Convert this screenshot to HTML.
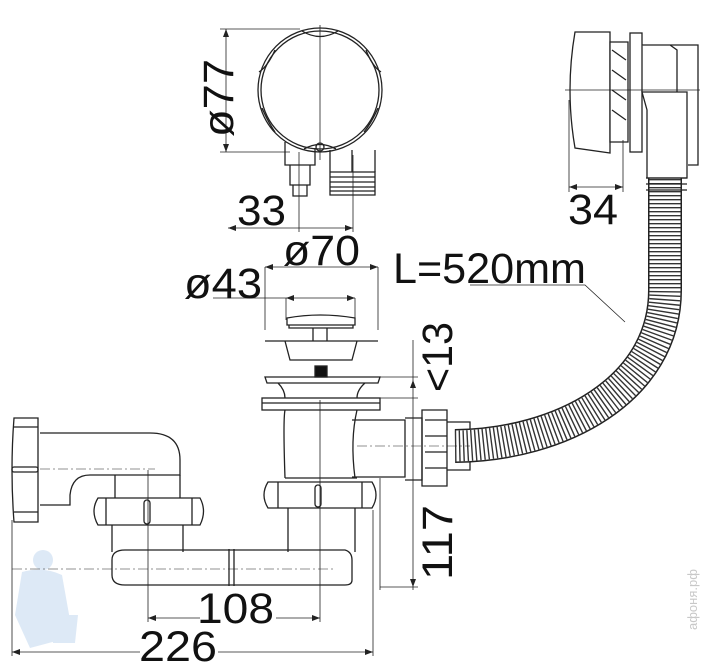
<!DOCTYPE html>
<html><head><meta charset="utf-8"><style>
html,body{margin:0;padding:0;background:#fff;}
svg{display:block}
text{font-family:"Liberation Sans",sans-serif;fill:#111}
</style></head><body>
<svg width="705" height="668" viewBox="0 0 705 668" xmlns="http://www.w3.org/2000/svg">
<g fill="none" stroke="#222" stroke-width="1.3">
<!-- watermark figure -->
<g fill="#dde9f6" stroke="none">
<circle cx="43" cy="560" r="10"/>
<path d="M22 572 Q43 566 62 575 L70 620 L60 640 L30 648 L15 615 Z"/>
<path d="M50 615 h28 l-3 28 h-22 z"/>
</g>
<!-- top round cap -->
<circle cx="320" cy="90" r="62"/>
<circle cx="320" cy="90" r="59"/>
<path d="M302 31 Q320 42 338 31 M366 50 Q372 66 381 72 M259 72 Q268 66 275 50 M262 108 Q268 122 275 132 M378 108 Q372 122 364 132 M304 149 Q320 140 336 149"/>
<circle cx="320" cy="147" r="4"/>
<path d="M285 142 V165 H315 V148 M290 165 V185 H310 V165 M293 185 V196 H307 V185"/>
<path d="M330 150 V172 M352 150 V172 M330 172 H375 V195 H330 Z M330 177 H375 M330 182 H375 M330 187 H375 M330 191 H375"/>
<path d="M375 150 V172"/>
<!-- top dims -->
<path stroke-width="0.8" d="M226 29 V152 M220 29 H300 M220 152 H290 M228 228 H353 M299 152 V232 M353 155 V232 M265 267 H378 M265 267 V330 M378 267 V330 M213 298 H355 M286 298 V320 M355 298 V320 M320 25 V160"/>
<!-- plug -->
<path d="M287 318 Q320 312 355 318 V325 H287 Z M289 325 H353 V328 H289 Z"/>
<path d="M313 328 V341 M327 328 V341"/>
<path d="M265 341 H378 M285 341 L290 360 H352 L357 341"/>
<rect x="315" y="366" width="12" height="11" fill="#111"/>
<path d="M265 377 H380 L378 383 H267 Z M278 383 Q285 390 285 398 M365 383 Q357 390 357 398"/>
<rect x="262" y="398" width="118" height="12"/>
<path d="M262 403 H380"/>
<path d="M285 410 Q283 420 285 478 M357 410 Q350 440 355 478 M285 478 H357"/>
<path d="M352 420 H405 V477 H352 M405 418 H422 V480 H405"/>
<path d="M422 410 H447 V486 H422 Z M425 420 H447 M425 436 H447 M425 452 H447 M425 468 H447"/>
<path d="M447 422 H470 V470 H447"/>
<!-- hose -->
<path d="M665 175 L665 290 C665 390 560 445 455 446" stroke="#222" stroke-width="34"/>
<path d="M665 175 L665 290 C665 390 560 445 455 446" stroke="#fff" stroke-width="31"/>
<path d="M665 175 L665 290 C665 390 560 445 455 446" stroke="#333" stroke-width="31" stroke-dasharray="1.4 2.6"/>
<!-- right top device -->
<path d="M575 32 H610 V153 L575 148 Q565 90 575 32 Z" fill="#fff"/>
<path d="M610 42 H628 V142 H610 Z M612 50 L626 60 M612 70 L626 80 M612 90 L626 100 M612 110 L626 120" fill="#fff"/>
<rect x="630" y="33" width="12" height="119" fill="#fff"/>
<path d="M642 45 H670 L677 50 V95 M670 45 H698 V165 H688" fill="#fff"/>
<path d="M642 92 H687 V178 H647 V110 Z" fill="#fff"/>
<path d="M646 178 H687 M646 184 H687 M646 190 H687"/>
<path stroke-width="0.8" d="M565 90 H700 M569 100 V192 M623 140 V192 M569 187 H623"/>
<!-- L leader -->
<path stroke-width="0.8" d="M470 285 H585 L625 322"/>
<!-- <13 and 117 dims -->
<path stroke-width="0.8" d="M380 377 H418 M380 398 H418 M413 340 V590 M380 587 H418 M380 478 V590"/>
<!-- lower nuts -->
<path d="M268 482 H372 Q380 495 372 508 H268 Q260 495 268 482 Z M278 482 V508 M362 482 V508"/>
<rect x="315" y="485" width="6" height="22" rx="3"/>
<path d="M288 508 V552 M355 508 V552"/>
<path d="M98 498 H200 Q207 511 200 525 H98 Q90 511 98 498 Z M106 498 V525 M192 498 V525"/>
<rect x="144" y="500" width="6" height="24" rx="3"/>
<path d="M112 525 V552 M183 525 V552 M115 475 V498 M180 475 V498"/>
<path d="M125 550 H345 Q352 552 352 560 V580 Q352 585 345 585 H125 Q112 585 112 575 V560 Q112 550 125 550 Z"/>
<path d="M229 549 V586 M234 549 V586"/>
<!-- elbow -->
<path d="M40 433 H150 Q180 433 180 460 V475 H90 Q72 475 70 495 V505 H40"/>
<path d="M14 418 H38 V522 H14 Q10 470 14 418 Z M14 427 H38 M14 512 H38"/>
<rect x="12" y="467" width="26" height="5" rx="2"/>
<!-- bottom dims -->
<path stroke-width="0.8" d="M148 470 V622 M320 400 V622 M148 618 H200 M276 618 H320 M12 520 V656 M373 510 V656 M12 652 H140 M218 652 H373"/>
<path stroke-width="0.6" stroke-dasharray="10 3 2 3" d="M12 569 H335 M40 469 H155 M357 446 H470"/>
</g>
<g fill="#222">
<path d="M228 228 l8 -3 v6z M353 228 l-8 -3 v6z M265 267 l8 -3 v6z M378 267 l-8 -3 v6z M286 298 l8 -3 v6z M355 298 l-8 -3 v6z M226 29 l-3 8 h6z M226 152 l-3 -8 h6z M569 187 l8 -3 v6z M623 187 l-8 -3 v6z M148 618 l8 -3 v6z M320 618 l-8 -3 v6z M12 652 l8 -3 v6z M373 652 l-8 -3 v6z M413 380 l-3 8 h6z M413 587 l-3 -8 h6z"/>
</g>
<g font-size="43">
<text x="237" y="225" textLength="49" lengthAdjust="spacingAndGlyphs">33</text>
<text x="283" y="265" textLength="77" lengthAdjust="spacingAndGlyphs">ø70</text>
<text x="184" y="298" textLength="78" lengthAdjust="spacingAndGlyphs">ø43</text>
<text x="568" y="224" textLength="50" lengthAdjust="spacingAndGlyphs">34</text>
<text x="393" y="283" textLength="193" lengthAdjust="spacingAndGlyphs">L=520mm</text>
<text x="197" y="623" textLength="77" lengthAdjust="spacingAndGlyphs">108</text>
<text x="139" y="661" textLength="78" lengthAdjust="spacingAndGlyphs">226</text>
<text transform="translate(233,137) rotate(-90)" textLength="78" lengthAdjust="spacingAndGlyphs">ø77</text>
<text transform="translate(452,392) rotate(-90)" textLength="70" lengthAdjust="spacingAndGlyphs">&lt;13</text>
<text transform="translate(452,580) rotate(-90)" textLength="75" lengthAdjust="spacingAndGlyphs">117</text>
</g>
<text font-size="13" style="fill:#c8c8c8" transform="translate(697,630) rotate(-90)">афоня.рф</text>
</svg>
</body></html>
